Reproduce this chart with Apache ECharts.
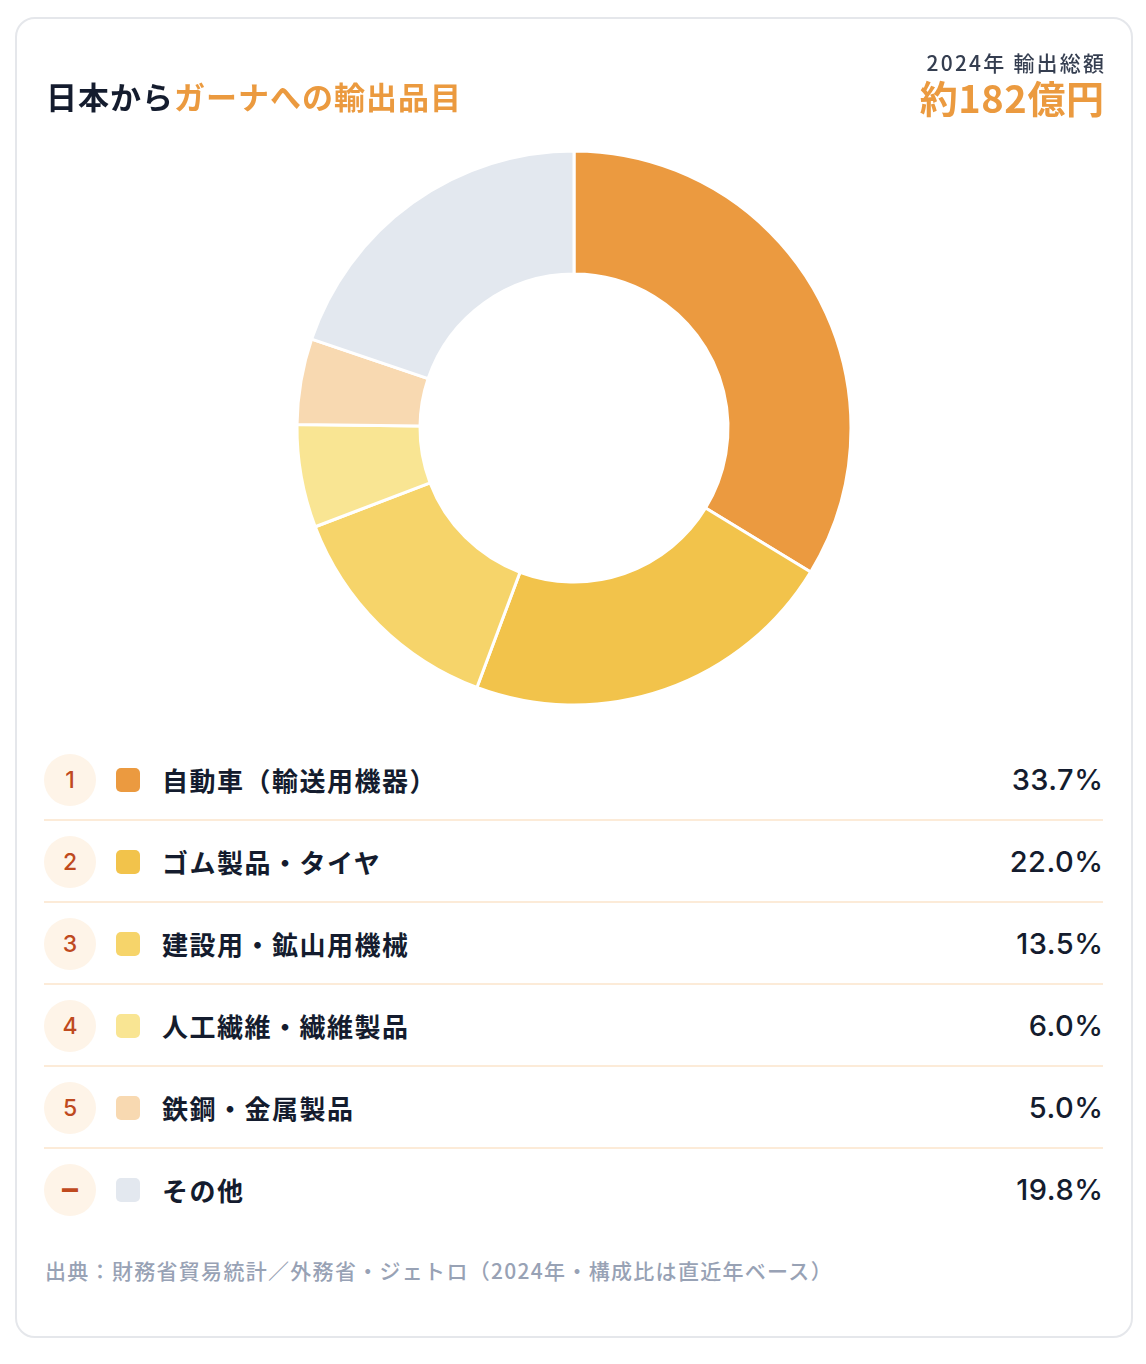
<!DOCTYPE html>
<html lang="ja">
<head>
<meta charset="UTF-8">
<title>日本からガーナへの輸出品目</title>
<script src="https://cdn.jsdelivr.net/npm/echarts@6.0.0/dist/echarts.min.js"></script>
<style>
    body {
        margin: 0;
        background: #fff;
        font-family: 'Noto Sans CJK JP', sans-serif;
        color: #141c2e;
    }
    .card {
        position: absolute;
        left: 15px;
        top: 17px;
        width: 1118px;
        height: 1321px;
        box-sizing: border-box;
        border: 2px solid #e5e7eb;
        border-radius: 20px;
        background: #fff;
    }
    #chart {
        position: absolute;
        left: 0;
        top: 0;
        width: 1146px;
        height: 730px;
    }
    .title {
        position: absolute;
        left: 46px;
        top: 76px;
        font-size: 31px;
        font-weight: 700;
        line-height: 40px;
        letter-spacing: 1px;
    }
    .title span { color: #eb9a3f; }
    .total {
        position: absolute;
        right: 42px;
        top: 48px;
        text-align: right;
    }
    .total .sub {
        font-size: 21px;
        font-weight: 500;
        color: #353e50;
        line-height: 28px;
        letter-spacing: 2.2px;
        margin-right: -2.2px;
    }
    .total .big {
        font-size: 38px;
        font-weight: 700;
        color: #eb9a3f;
        line-height: 42px;
        letter-spacing: 0.6px;
        margin-right: -0.6px;
    }
    .row {
        position: absolute;
        left: 44px;
        width: 1059px;
        height: 82px;
        box-sizing: border-box;
    }
    .row.line { border-bottom: 2px solid #fcebd8; }
    .rank {
        position: absolute;
        left: 0;
        top: 15px;
        width: 52px;
        height: 52px;
        border-radius: 50%;
        background: #fef4e8;
        color: #bf4a1e;
        font-family: 'Inter', 'Noto Sans CJK JP', sans-serif;
        font-size: 23px;
        font-weight: 500;
        line-height: 52px;
        text-align: center;
    }
    .rank.dash { font-size: 32px; font-weight: 700; line-height: 50px; }
    .swatch {
        position: absolute;
        left: 72px;
        top: 29px;
        width: 24px;
        height: 24px;
        border-radius: 5px;
    }
    .label {
        position: absolute;
        left: 118px;
        top: 0;
        line-height: 82px;
        font-size: 26px;
        font-weight: 700;
        letter-spacing: 1.5px;
    }
    .pct {
        position: absolute;
        right: 0;
        top: 0;
        line-height: 82px;
        font-family: 'Inter', 'Noto Sans CJK JP', sans-serif;
        font-size: 29px;
        font-weight: 500;
        letter-spacing: 0.5px;
        margin-right: -0.5px;
    }
    .source {
        position: absolute;
        left: 45px;
        top: 1256px;
        font-size: 21px;
        font-weight: 500;
        color: #98a2b5;
        line-height: 28px;
        letter-spacing: 1.3px;
    }
</style>
</head>
<body>
<div class="card"></div>
<div id="chart"></div>
<div class="title">日本から<span>ガーナへの輸出品目</span></div>
<div class="total">
    <div class="sub">2024年 輸出総額</div>
    <div class="big">約182億円</div>
</div>
<div id="rows"></div>
<div class="source">出典：財務省貿易統計／外務省・ジェトロ（2024年・構成比は直近年ベース）</div>

<script>
// 品目データ
const items = ['自動車（輸送用機器）', 'ゴム製品・タイヤ', '建設用・鉱山用機械', '人工繊維・繊維製品', '鉄鋼・金属製品', 'その他'];
const shares = [33.7, 22.0, 13.5, 6.0, 5.0, 19.8];
const ranks = ['1', '2', '3', '4', '5', '–'];
const colors = ['#eb9a40', '#f2c34b', '#f6d46a', '#f9e593', '#f8d9b1', '#e3e8ef'];

// 凡例テーブル
const rowsEl = document.getElementById('rows');
items.forEach((name, i) => {
    const row = document.createElement('div');
    row.className = 'row' + (i < items.length - 1 ? ' line' : '');
    row.style.top = (739 + i * 82) + 'px';
    const rankCls = /\d/.test(ranks[i]) ? 'rank' : 'rank dash';
    row.innerHTML = `
        <div class="${rankCls}">${ranks[i]}</div>
        <div class="swatch" style="background:${colors[i]}"></div>
        <div class="label">${name}</div>
        <div class="pct">${shares[i].toFixed(1)}%</div>`;
    rowsEl.appendChild(row);
});

// ドーナツチャート
const chart = echarts.init(document.getElementById('chart'));
chart.setOption({
    animation: false,
    series: [{
        type: 'pie',
        center: [574, 428],
        radius: [154, 277],
        startAngle: 90,
        clockwise: true,
        label: { show: false },
        labelLine: { show: false },
        emphasis: { disabled: true },
        itemStyle: { borderColor: '#fff', borderWidth: 3 },
        data: items.map((name, i) => ({
            name: name,
            value: shares[i],
            itemStyle: { color: colors[i] }
        }))
    }]
});
</script>
</body>
</html>
